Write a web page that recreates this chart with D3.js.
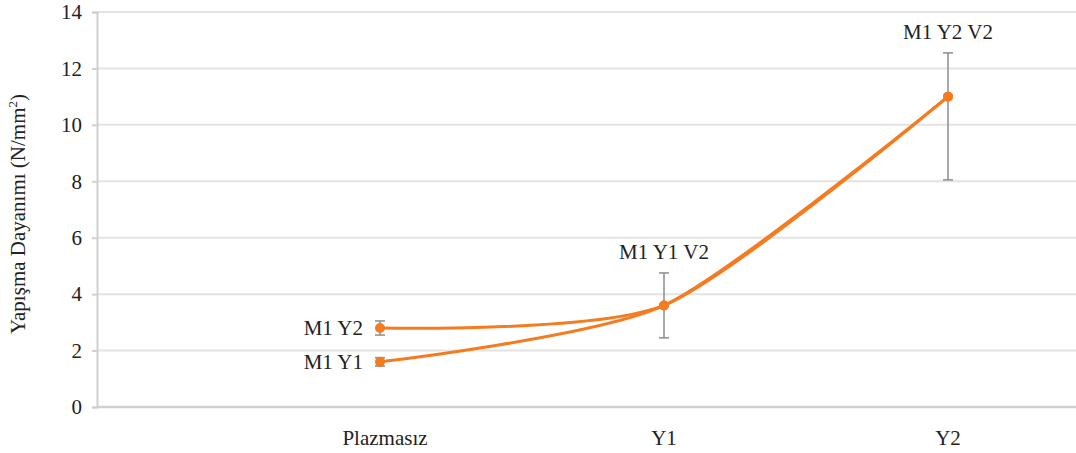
<!DOCTYPE html>
<html>
<head>
<meta charset="utf-8">
<script src="https://cdn.jsdelivr.net/npm/d3@7"></script>
<style>
  body { margin: 0; background: #fff; }
  svg text { font-family: "Liberation Serif", "Times New Roman", Tinos, "DejaVu Serif", serif !important; fill: #222; }
</style>
</head>
<body>
<div id="vis1"></div>
<script>
// data
const categories = ["Plazmasız", "Y1", "Y2"];
const seriesNames = ["M1 Y1", "M1 Y2"];
const y1Values = [1.6, 3.6, 11.0];
const y2Values = [2.8, 3.6, 11.0];
const y1Err = [0.15, 1.15, 2.5];
const y2Err = [0.25, 1.15, 1.55];
const y2ErrLow = [0.25, 1.1, 2.95];
const pointLabels = ["M1 Y1 V2", "M1 Y2 V2"];
const yTicks = [0, 2, 4, 6, 8, 10, 12, 14];

//create frame
const FRAME_HEIGHT = 453;
const FRAME_WIDTH = 1076;
const MARGINS = {left: 97, right: 0, top: 12, bottom: 46};
const FONT = "'Liberation Serif', 'Times New Roman', serif";

const VIS_HEIGHT = FRAME_HEIGHT - MARGINS.top - MARGINS.bottom;
const VIS_WIDTH = FRAME_WIDTH - MARGINS.left - MARGINS.right;

const FRAME1 = d3.select("#vis1")
  .append("svg")
    .attr("height", FRAME_HEIGHT)
    .attr("width", FRAME_WIDTH)
    .attr("font-family", FONT);

const X_SCALE = d3.scalePoint()
  .domain(categories)
  .range([283, 851]);
const Y_SCALE = d3.scaleLinear()
  .domain([0, 14])
  .range([VIS_HEIGHT, 0]);

const g = FRAME1.append("g")
  .attr("transform", "translate(" + MARGINS.left + "," + MARGINS.top + ")");

// gridlines
g.selectAll(".grid")
  .data(yTicks.filter(d => d > 0))
  .enter()
  .append("line")
    .attr("x1", 0)
    .attr("x2", VIS_WIDTH)
    .attr("y1", d => Y_SCALE(d))
    .attr("y2", d => Y_SCALE(d))
    .attr("stroke", "#e3e3e3")
    .attr("stroke-width", 2);

// y axis
const yAxis = g.append("g")
  .call(d3.axisLeft(Y_SCALE).tickValues(yTicks).tickSize(5).tickPadding(10))
  .attr("font-family", FONT);
yAxis.select(".domain").attr("stroke", "#d0d0d0").attr("stroke-width", 2);
yAxis.selectAll(".tick line").attr("stroke", "#d0d0d0").attr("stroke-width", 2);
yAxis.selectAll("text")
  .attr("font-size", "21px")
  .attr("fill", "#222");

// x axis baseline
g.append("line")
  .attr("x1", 0).attr("x2", VIS_WIDTH)
  .attr("y1", VIS_HEIGHT).attr("y2", VIS_HEIGHT)
  .attr("stroke", "#d0d0d0").attr("stroke-width", 2.5);

// x labels
g.selectAll(".xlab")
  .data(categories)
  .enter()
  .append("text")
    .attr("x", d => X_SCALE(d) + (d === "Plazmasız" ? 5 : 0))
    .attr("y", VIS_HEIGHT + 38)
    .attr("text-anchor", "middle")
    .attr("font-size", "21px")
    .text(d => d);

// axis title
FRAME1.append("text")
  .attr("transform", "translate(25," + (MARGINS.top + 202) + ") rotate(-90)")
  .attr("text-anchor", "middle")
  .attr("font-size", "21px")
  .html('Yapışma Dayanımı (N/mm<tspan dy="-8" font-size="13px">2</tspan><tspan dy="8">)</tspan>');

// error bars
const errData = [];
categories.forEach((c, i) => {
  errData.push({c: c, v: y1Values[i], lo: y1Err[i], hi: y1Err[i]});
  if (i === 0) errData.push({c: c, v: y2Values[i], lo: y2ErrLow[i], hi: y2Err[i]});
  else if (i === 2) errData[errData.length - 1] = {c: c, v: y2Values[i], lo: y2ErrLow[i], hi: y2Err[i]};
});
const eb = g.selectAll(".err")
  .data(errData)
  .enter()
  .append("g")
    .attr("stroke", "#8c8c8c")
    .attr("stroke-width", 1.5);
eb.append("line")
  .attr("x1", d => X_SCALE(d.c)).attr("x2", d => X_SCALE(d.c))
  .attr("y1", d => Y_SCALE(d.v + d.hi)).attr("y2", d => Y_SCALE(d.v - d.lo));
eb.append("line")
  .attr("x1", d => X_SCALE(d.c) - 5).attr("x2", d => X_SCALE(d.c) + 5)
  .attr("y1", d => Y_SCALE(d.v + d.hi)).attr("y2", d => Y_SCALE(d.v + d.hi));
eb.append("line")
  .attr("x1", d => X_SCALE(d.c) - 5).attr("x2", d => X_SCALE(d.c) + 5)
  .attr("y1", d => Y_SCALE(d.v - d.lo)).attr("y2", d => Y_SCALE(d.v - d.lo));

// smoothed lines
const line = d3.line()
  .x((d, i) => X_SCALE(categories[i]))
  .y(d => Y_SCALE(d))
  .curve(d3.curveCardinal.tension(0.3));

[y1Values, y2Values].forEach(vals => {
  g.append("path")
    .datum(vals)
    .attr("fill", "none")
    .attr("stroke", "#f47c20")
    .attr("stroke-width", 3)
    .attr("d", line);
  g.selectAll(null)
    .data(vals)
    .enter()
    .append("circle")
      .attr("cx", (d, i) => X_SCALE(categories[i]))
      .attr("cy", d => Y_SCALE(d))
      .attr("r", 5)
      .attr("fill", "#f47c20");
});

// series labels at first category
g.selectAll(".slab")
  .data(seriesNames)
  .enter()
  .append("text")
    .attr("x", X_SCALE(categories[0]) - 17)
    .attr("y", (d, i) => Y_SCALE(i === 0 ? y1Values[0] : y2Values[0]) + 7)
    .attr("text-anchor", "end")
    .attr("font-size", "21px")
    .text(d => d);

// point labels above error bars
g.selectAll(".plab")
  .data(pointLabels)
  .enter()
  .append("text")
    .attr("x", (d, i) => X_SCALE(categories[i + 1]))
    .attr("y", (d, i) => Y_SCALE(i === 0 ? y1Values[1] + y1Err[1] : y2Values[2] + y2Err[2]) - 14)
    .attr("text-anchor", "middle")
    .attr("font-size", "21px")
    .text(d => d);
</script>
</body>
</html>
